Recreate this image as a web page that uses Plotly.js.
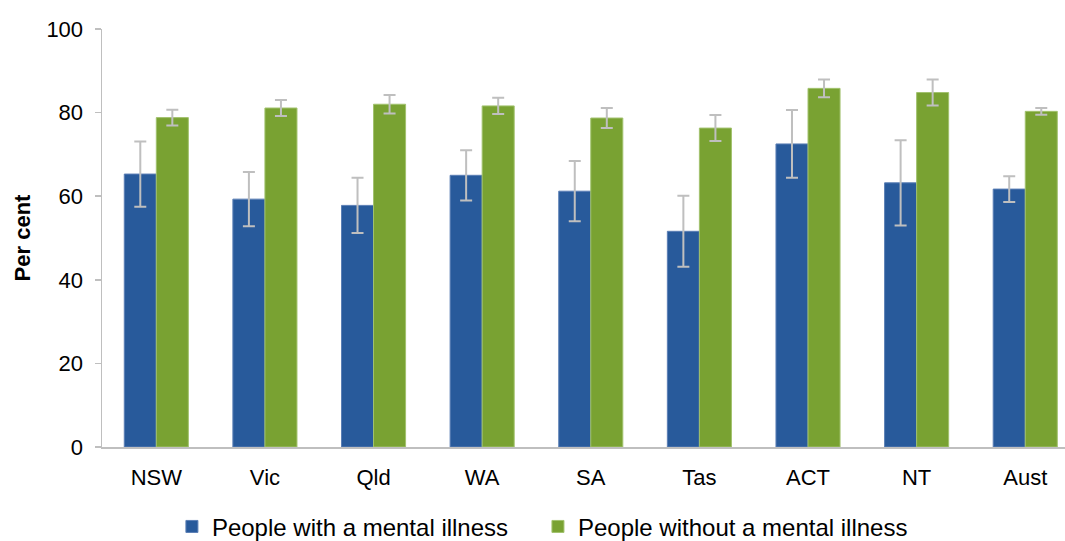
<!DOCTYPE html>
<html>
<head>
<meta charset="utf-8">
<script src="https://cdn.plot.ly/plotly-3.0.1.min.js"></script>
<style>html,body{margin:0;padding:0;background:#fff;}#chart{width:1065px;height:541px;}</style>
</head>
<body>
<div id="chart"></div>
<script>
const categories = ["NSW", "Vic", "Qld", "WA", "SA", "Tas", "ACT", "NT", "Aust"];
const withIllness = [65.3, 59.3, 57.8, 65.0, 61.2, 51.6, 72.5, 63.2, 61.7];
const withIllnessErr = [7.8, 6.5, 6.6, 6.0, 7.2, 8.5, 8.1, 10.2, 3.1];
const withoutIllness = [78.8, 81.1, 82.0, 81.6, 78.7, 76.3, 85.8, 84.8, 80.3];
const withoutIllnessErr = [1.9, 1.9, 2.2, 1.95, 2.4, 3.1, 2.1, 3.1, 0.8];
const yTicks = [0, 20, 40, 60, 80, 100];

const errStyle = {type: "data", visible: true, color: "#BFBFBF", thickness: 2, width: 6};

const traces = [
  {
    type: "bar", name: "People with a mental illness", legend: "legend",
    x: categories, y: withIllness,
    marker: {color: "#285A9B", line: {color: "#5B7FB5", width: 1}},
    error_y: Object.assign({array: withIllnessErr}, errStyle)
  },
  {
    type: "bar", name: "People without a mental illness", legend: "legend2",
    x: categories, y: withoutIllness,
    marker: {color: "#79A232", line: {color: "#A2C26E", width: 1}},
    error_y: Object.assign({array: withoutIllnessErr}, errStyle)
  }
];

const legendBase = {
  orientation: "h", y: -0.191, yanchor: "middle", xanchor: "left",
  font: {size: 24}, itemwidth: 30, borderwidth: 0, bgcolor: "rgba(0,0,0,0)"
};

const layout = {
  width: 1065, height: 541,
  margin: {l: 102, r: 0, t: 29, b: 94, autoexpand: false},
  paper_bgcolor: "#fff", plot_bgcolor: "#fff",
  font: {family: "Liberation Sans, Arial, sans-serif", color: "#000", size: 22},
  barmode: "group", bargap: 0.41, bargroupgap: 0,
  xaxis: {
    type: "category", range: [-0.5, 8.366],
    showline: true, linecolor: "#BFBFBF", linewidth: 1.5,
    ticks: "", showgrid: false, zeroline: false,
    tickfont: {size: 22}, ticklabelstandoff: 10
  },
  yaxis: {
    range: [0, 100], tickvals: yTicks, ticktext: yTicks.map(String),
    showline: true, linecolor: "#BFBFBF", linewidth: 1.5,
    ticks: "outside", ticklen: 6, tickcolor: "#BFBFBF", tickwidth: 1.5,
    showgrid: false, zeroline: false,
    tickfont: {size: 22}, ticklabelstandoff: 7,
    title: {text: "<b>Per cent</b>", font: {size: 22}, standoff: 9}
  },
  showlegend: true,
  legend: Object.assign({}, legendBase, {x: 0.0726}),
  legend2: Object.assign({}, legendBase, {x: 0.4527})
};

Plotly.newPlot("chart", traces, layout, {displayModeBar: false, staticPlot: true});
</script>
</body>
</html>
